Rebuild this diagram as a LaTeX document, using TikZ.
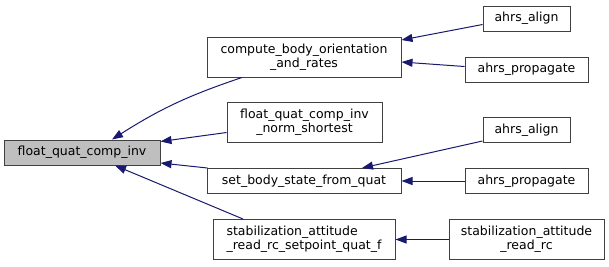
\documentclass[tikz,border=0pt]{standalone}
\usepackage{fontspec}
\setmainfont{DejaVu Sans}
\usetikzlibrary{arrows.meta}
\definecolor{midnightblue}{HTML}{191970}

\tikzset{
  fn/.style={draw=black!75, line width=1pt, fill=white, align=center,
    inner sep=0pt, minimum height=25pt, font=\fontsize{12.5}{14}\selectfont},
  fn2/.style={fn, minimum height=40pt},
  call/.style={draw=midnightblue, line width=1pt,
    -{Triangle[length=11pt,width=8pt]}},
}

\begin{document}
\begin{tikzpicture}[x=1pt,y=-1pt]
  \useasboundingbox (0,0) rectangle (609,266);

  \node[fn, fill=black!25, minimum width=156pt] (fqci) at (82,152.5) {float\_quat\_comp\_inv};

  \node[fn2, minimum width=194pt] (cbo) at (304,57) {compute\_body\_orientation\\\_and\_rates};
  \node[fn2, minimum width=155pt] (fqcins) at (304.5,122.5) {float\_quat\_comp\_inv\\\_norm\_shortest};
  \node[fn, minimum width=194pt] (sbs) at (304,181) {set\_body\_state\_from\_quat};
  \node[fn2, align=left, minimum width=182pt] (sarcsp) at (304,239.5) {stabilization\_attitude\\\_read\_rc\_setpoint\_quat\_f};

  \node[fn, minimum width=87pt] (aa1) at (526.5,18.5) {ahrs\_align};
  \node[fn, minimum width=123pt] (ap1) at (526.5,69.5) {ahrs\_propagate};
  \node[fn, minimum width=87pt] (aa2) at (526.5,130) {ahrs\_align};
  \node[fn, minimum width=123pt] (ap2) at (526.5,181) {ahrs\_propagate};
  \node[fn2, minimum width=155pt] (sarc) at (526.5,239.5) {stabilization\_attitude\\\_read\_rc};

  \draw[call] ([xshift=-62pt]cbo.south) to[bend right=7] ([xshift=30pt]fqci.north);
  \draw[call] ([yshift=-10pt]fqcins.west) -- ([yshift=11pt]fqci.east);
  \draw[call] ([xshift=1pt]sbs.north west) -- ([yshift=-10.5pt]fqci.east);
  \draw[call] ([xshift=-61pt]sarcsp.north) -- ([xshift=33pt]fqci.south);

  \draw[call] ([yshift=-6pt]aa1.west) -- ([yshift=17pt]cbo.east);
  \draw[call] ([yshift=3pt]ap1.west) -- ([yshift=-5pt]cbo.east);
  \draw[call] ([yshift=-11pt]aa2.west) -- ([xshift=58pt]sbs.north);
  \draw[call] (ap2.west) -- (sbs.east);
  \draw[call] (sarc.west) -- (sarcsp.east);
\end{tikzpicture}
\end{document}
